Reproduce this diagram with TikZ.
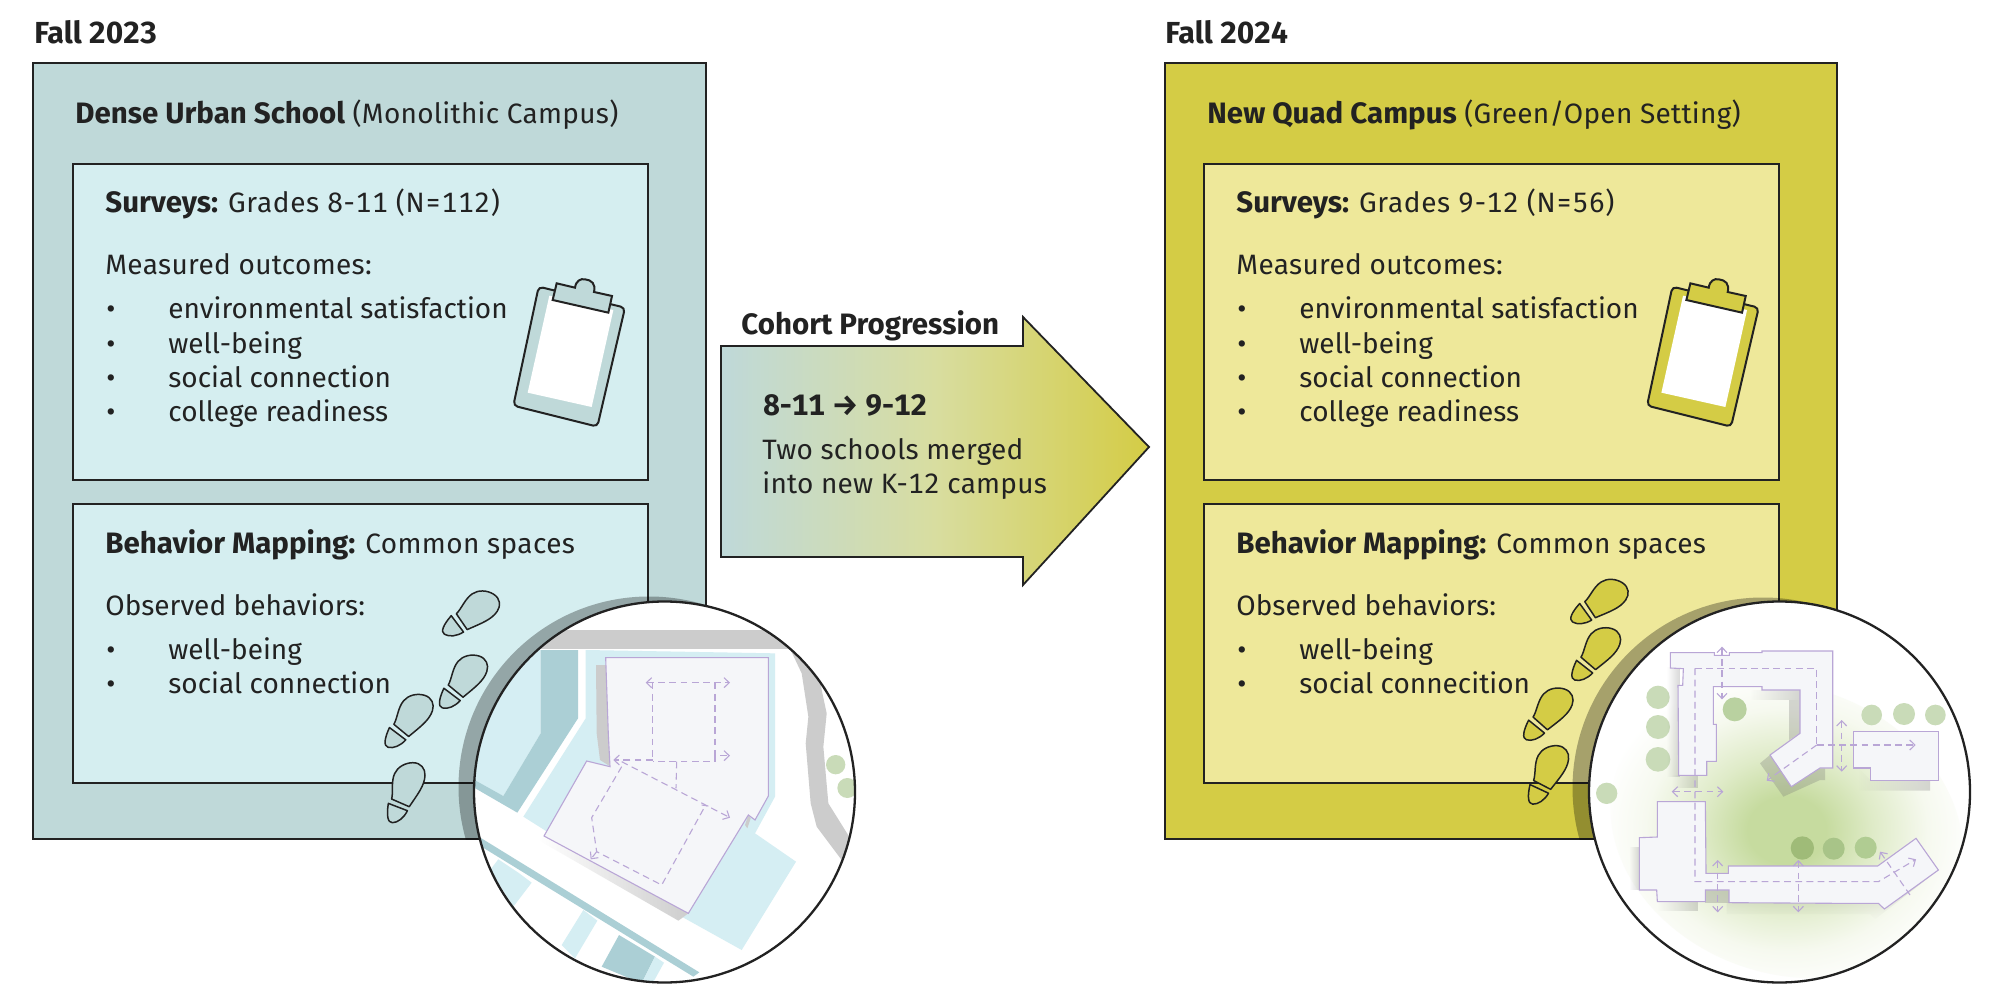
\documentclass[tikz,border=0pt]{standalone}
\usepackage{fontspec}
\setmainfont{Fira Sans}[Numbers=Monospaced]
\usetikzlibrary{arrows.meta,fadings}
\definecolor{ink}{HTML}{222222}
\definecolor{tealpanel}{HTML}{BFD9D9}
\definecolor{tealinner}{HTML}{D5EEF0}
\definecolor{yelpanel}{HTML}{D4CC45}
\definecolor{yelinner}{HTML}{EEE89A}
\definecolor{maplight}{HTML}{D5EEF3}
\definecolor{mapmid}{HTML}{ABCFD5}
\definecolor{mapgrey}{HTML}{CCCCCC}
\definecolor{bldg}{HTML}{F5F6F9}
\definecolor{purp}{HTML}{B9A6D6}
\definecolor{tree}{HTML}{C9DBB8}
\definecolor{treea}{HTML}{B9D1A0}
\definecolor{treeb}{HTML}{9FBB78}
\definecolor{treec}{HTML}{A8C488}
\definecolor{treed}{HTML}{B0CC92}
\definecolor{glowcore}{HTML}{C6DB9F}
\definecolor{glowmid}{HTML}{DFEBC8}
\definecolor{glowout}{HTML}{F6F9EF}
\pgfdeclareradialshading{greenglow}{\pgfpoint{0bp}{0bp}}{color(0bp)=(glowcore); color(5bp)=(glowcore); color(11bp)=(glowmid); color(18bp)=(glowout); color(24bp)=(white); color(50bp)=(white)}
\newcommand{\bfx}[1]{{\fontsize{14.75pt}{16pt}\selectfont\bfseries #1}}
\newcommand{\hdx}[1]{{\fontsize{15.2pt}{16pt}\selectfont\bfseries #1}}
\newcommand{\lsp}[2]{{\addfontfeature{LetterSpace=#1}#2}}
\tikzset{
  txt/.style={anchor=base west,inner sep=0pt,text=ink,font=\fontsize{14pt}{16pt}\selectfont},
  panelline/.style={draw=ink,line width=1pt},
  zoomscale/.style={x=0.16667pt,y=-0.16667pt},
  bldgstyle/.style={fill=bldg,draw=purp,line width=.55pt,line join=miter},
  flow/.style={draw=purp,line width=.55pt,dash pattern=on 3.4pt off 2.2pt},
  flowtip/.style={flow,{Straight Barb[length=2.6pt,width=5pt,line width=.55pt]}-{Straight Barb[length=2.6pt,width=5pt,line width=.55pt]}},
  flowend/.style={flow,-{Straight Barb[length=2.6pt,width=5pt,line width=.55pt]}},
  bshadow/.style={fill=black!55,opacity=.28},
}
\newcommand{\shoeprint}[4]{%
 \begin{scope}[shift={(#1,#2)},zoomscale,rotate=-#3,xscale=1.1]
  \path[fill=#4,draw=ink,line width=.75pt,line join=round]
   (-22,-14) .. controls (-17,-35) and (-24,-65) .. (-14,-90)
   .. controls (-6,-110) and (15,-123) .. (36,-123)
   .. controls (58,-123) and (70,-105) .. (69,-85)
   .. controls (68,-55) and (50,-30) .. (26,9) -- cycle;
  \path[fill=#4,draw=ink,line width=.75pt,line join=round]
   (-31,-1) -- (21,21) .. controls (12,42) and (-5,57) .. (-20,57)
   .. controls (-33,57) and (-36,35) .. (-31,-1) -- cycle;
 \end{scope}}
\newcommand{\clipboardicon}[3]{%
 \begin{scope}[shift={(#1,#2)},zoomscale]
  \path[fill=#3,draw=ink,line width=1pt,rounded corners=2.2pt]
   (146,80) -- (405,143) -- (322,500) -- (70,437) -- cycle;
  \fill[white] (178,107) -- (370,150) -- (305,441) -- (113,398) -- cycle;
  \path[fill=#3,draw=ink,line width=1pt,line join=miter]
   (200,70) -- (255,83) .. controls (258,62) and (272,55) .. (285,58)
   .. controls (305,60) and (318,72) .. (312,96) -- (366,108) -- (355,158) -- (188,120) -- cycle;
 \end{scope}}
\begin{document}
\begin{tikzpicture}[x=0.5pt,y=-0.5pt]
\useasboundingbox (0,0) rectangle (2000,1004);
\fill[white] (0,0) rectangle (2000,1004);

% ---------- left panel
\path[fill=tealpanel,panelline] (33,63) rectangle (706,839);
\path[fill=tealinner,panelline] (73,164) rectangle (648,480);
\path[fill=tealinner,panelline] (73,504) rectangle (648,783);
\node[txt] (a0) at (34,44) {\hdx{Fall 2023}};
\node[txt] (a1) at (75,124) {\bfx{Dense Urban School} \lsp{1}{(Monolithic Campus)}};
\node[txt] (a2) at (105,213) {\bfx{Surveys:} \lsp{2.4}{Grades 8-11 (N=112)}};
\node[txt] (a3) at (105,275) {\lsp{1.2}{Measured outcomes:}};
\node[txt] (a4b) at (106,319) {•}; \node[txt] (a4) at (168,319) {environmental satisfaction};
\node[txt] (a5b) at (106,354) {•}; \node[txt] (a5) at (168,354) {well-being};
\node[txt] (a6b) at (106,388) {•}; \node[txt] (a6) at (168,388) {social connection};
\node[txt] (a7b) at (106,422) {•}; \node[txt] (a7) at (168,422) {college readiness};
\node[txt] (a8) at (105,553) {\bfx{Behavior Mapping:} \lsp{1.4}{Common spaces}};
\node[txt] (a9) at (105,615) {Observed behaviors:};
\node[txt] (a10b) at (106,659) {•}; \node[txt] (a10) at (168,659) {well-being};
\node[txt] (a11b) at (106,693) {•}; \node[txt] (a11) at (168,693) {social connection};
\clipboardicon{490}{260}{tealpanel}
\shoeprint{460.7}{622}{32}{tealpanel}
\shoeprint{454.7}{691.7}{16}{tealpanel}
\shoeprint{400.3}{731}{16}{tealpanel}
\shoeprint{399.7}{803.7}{0}{tealpanel}

% ---------- right panel
\path[fill=yelpanel,panelline] (1164.5,63) rectangle (1836.7,839);
\path[fill=yelinner,panelline] (1203.5,164) rectangle (1779,480);
\path[fill=yelinner,panelline] (1203.5,504) rectangle (1779,783);
\node[txt] (b0) at (1165,44) {\hdx{Fall 2024}};
\node[txt] (b1) at (1207,124) {\bfx{New Quad Campus} \lsp{1}{(Green/Open Setting)}};
\node[txt] (b2) at (1236,213) {\bfx{Surveys:} \lsp{2.4}{Grades 9-12 (N=56)}};
\node[txt] (b3) at (1236,275) {\lsp{1.2}{Measured outcomes:}};
\node[txt] (b4b) at (1237,319) {•}; \node[txt] (b4) at (1299,319) {environmental satisfaction};
\node[txt] (b5b) at (1237,354) {•}; \node[txt] (b5) at (1299,354) {well-being};
\node[txt] (b6b) at (1237,388) {•}; \node[txt] (b6) at (1299,388) {social connection};
\node[txt] (b7b) at (1237,422) {•}; \node[txt] (b7) at (1299,422) {college readiness};
\node[txt] (b8) at (1236,553) {\bfx{Behavior Mapping:} \lsp{1.4}{Common spaces}};
\node[txt] (b9) at (1236,615) {Observed behaviors:};
\node[txt] (b10b) at (1237,659) {•}; \node[txt] (b10) at (1299,659) {well-being};
\node[txt] (b11b) at (1237,693) {•}; \node[txt] (b11) at (1299,693) {social connecition};
\clipboardicon{1623.7}{260}{yelpanel}
\shoeprint{1589}{610}{33}{yelpanel}
\shoeprint{1587.3}{664}{17}{yelpanel}
\shoeprint{1539.3}{724}{18}{yelpanel}
\shoeprint{1541.3}{785.7}{4}{yelpanel}

% ---------- cohort arrow
\path[left color=tealpanel,right color=yelpanel,middle color=tealpanel!45!yelinner!80!yelpanel]
  (721,346) -- (1023,346) -- (1023,317) -- (1149,447) -- (1023,585) -- (1023,557) -- (721,557) -- cycle;
\path[draw=ink,line width=.9pt,line join=miter]
  (721,346) -- (1023,346) -- (1023,317) -- (1149,447) -- (1023,585) -- (1023,557) -- (721,557) -- cycle;
\node[txt] (c0) at (741,335) {\bfx{Cohort Progression}};
\node[txt] (c1) at (763,416) {\bfx{8-11 → 9-12}};
\node[txt] (c2) at (762,460) {\lsp{.8}{Two schools merged}};
\node[txt] (c3) at (762,494) {\lsp{.8}{into new K-12 campus}};

% ---------- left map
\begin{scope}
 \clip (33,63) rectangle (706,839);
 \fill[black,opacity=.3] (649,787) circle[radius=190.5];
\end{scope}
\fill[white] (664.5,792) circle[radius=190.5];
\begin{scope}
 \clip (664.5,792) circle[radius=190.5];
 \begin{scope}[shift={(440,570)},zoomscale]
  \fill[mapgrey] (250,180) rectangle (1100,236);
  \fill[mapgrey] (1050,236) -- (1130,236) -- (1145,360) -- (1160,430) -- (1150,530) -- (1165,700)
     -- (1240,820) -- (1205,870) -- (1130,770) -- (1112,700) -- (1097,520) -- (1105,440) -- (1085,310) -- cycle;
  \fill[maplight] (60,240) -- (302,240) -- (302,490) -- (190,678) -- (60,610) -- cycle;
  \fill[mapmid] (302,240) -- (414,240) -- (414,445) -- (232,728) -- (80,640) -- (100,628) -- (190,678) -- (302,490) -- cycle;
  \fill[maplight] (437,240) -- (1005,250) -- (1005,680) -- (945,790) -- (1068,875) -- (905,1140) -- (725,1040) -- (250,740) -- (437,445) -- cycle;
  \fill[mapmid] (100,790) -- (778,1207) -- (760,1220) -- (100,815) -- cycle;
  \fill[maplight] (175,868) -- (235,908) -- (275,938) -- (220,1010) -- (150,900) -- cycle;
  \fill[maplight] (430,1020) -- (472,1052) -- (405,1165) -- (365,1125) -- cycle;
  \fill[mapmid] (537,1095) -- (645,1160) -- (605,1240) -- (485,1190) -- cycle;
  \fill[maplight] (645,1160) -- (672,1178) -- (635,1245) -- (605,1240) -- cycle;
  \fill[tree] (1187,584) circle[radius=29];
  \fill[tree] (1222,654) circle[radius=30];
  % shadows
  \fill[mapgrey] (468,285) -- (500,285) -- (512,590) -- (480,570) -- (470,490) -- cycle;
  \fill[mapgrey] (925,735) -- (932,745) -- (922,775) -- (915,765) -- cycle;
  \path[fill=white] (295,790) -- (745,1030) -- (715,1052) -- (285,810) -- cycle;
  \fill[black!55,opacity=.35,path fading=west] (312,800) -- (745,1030) -- (715,1052) -- (298,812) -- cycle;
  \path[bldgstyle] (497,263) -- (985,263) -- (985,678) -- (945,750) -- (925,735) -- (745,1030) -- (312,798) -- (440,573) -- (510,590) -- (505,495) -- cycle;
  \path[flowtip] (617,338) -- (870,338);
  \path[flow] (638,338) -- (638,570);
  \path[flowend] (825,338) -- (825,557) -- (870,557);
  \path[flow] (825,557) -- (825,575) -- (638,575);
  \path[flowend] (638,570) -- (520,570);
  \path[flow] (710,575) -- (708,655);
  \path[flowend] (545,575) -- (870,743);
  \path[flow] (545,590) -- (455,743) -- (470,845) -- (665,945) -- (797,705);
  \path[flowend] (470,845) -- (452,868);
  \path[flow] (785,705) -- (805,708);
 \end{scope}
\end{scope}
\draw[ink,line width=1.15pt] (664.5,792) circle[radius=190.5];

% ---------- right map
\begin{scope}
 \clip (1164.5,63) rectangle (1836.7,839);
 \fill[black,opacity=.3] (1763,788) circle[radius=190.5];
\end{scope}
\fill[white] (1779.5,792) circle[radius=190.5];
\begin{scope}
 \clip (1779.5,792) circle[radius=190.5];
 \begin{scope}[shift={(1550,570)},zoomscale]
  \path[shading=greenglow,rotate around={-20:(710,780)}] (710,780) ellipse[x radius=540,y radius=430];
  % trees
  \fill[tree] (324,382) circle[radius=35];
  \fill[tree] (324,471) circle[radius=36];
  \fill[tree] (324,568) circle[radius=37];
  \fill[tree] (170,670) circle[radius=32];
  \fill[treea] (554,418) circle[radius=36];
  \fill[tree] (965,435) circle[radius=31];
  \fill[tree] (1062,432) circle[radius=33];
  \fill[tree] (1156,435) circle[radius=31];
  \fill[treeb] (757,834) circle[radius=35];
  \fill[treec] (851,836) circle[radius=33];
  \fill[treed] (947,833) circle[radius=33];
  % shadows
  \fill[bshadow,path fading=west] (600,360) -- (750,360) -- (750,390) -- (600,390) -- cycle;
  \fill[bshadow] (717,390) -- (750,390) -- (750,490) -- (717,510) -- cycle;
  \fill[bshadow] (660,555) -- (630,580) -- (700,680) -- (810,630) -- (825,630) -- (825,595) -- (810,595) -- (725,650) -- cycle;
  \fill[bshadow,path fading=west] (350,290) -- (390,290) -- (390,620) -- (350,620) -- cycle;
  \fill[bshadow,path fading=west] (365,616) -- (445,616) -- (445,655) -- (365,655) -- cycle;
  \fill[bshadow,path fading=west] (925,594) -- (962,631) -- (1140,631) -- (1140,662) -- (925,662) -- cycle;
  \fill[bshadow,path fading=west] (237,830) -- (270,830) -- (270,960) -- (237,960) -- cycle;
  \fill[bshadow,path fading=west] (322,995) -- (445,995) -- (445,1023) -- (322,1023) -- cycle;
  \fill[bshadow] (465,960) -- (537,960) -- (537,1000) -- (465,1000) -- cycle;
  \fill[bshadow,path fading=south] (530,998) -- (870,1000) -- (985,1000) -- (1003,1017) -- (1165,900) -- (975,1048) -- (960,1032) -- (530,1032) -- cycle;
  % buildings
  \path[bldgstyle] (361,248) -- (493,248) -- (493,256) -- (538,256) -- (538,248) -- (636,248) -- (636,243) -- (848,243) -- (848,594) -- (810,594) -- (724,650) -- (660,555) -- (750,490) -- (750,360) -- (636,360) -- (636,350) -- (490,350) -- (490,463) -- (499,463) -- (499,574) -- (470,574) -- (470,616) -- (386,616) -- (384,346) -- (398,346) -- (400,296) -- (361,294) -- cycle;
  \path[bldgstyle] (322,695) -- (466,695) -- (468,910) -- (535,910) -- (535,888) -- (983,888) -- (1098,805) -- (1165,900) -- (1003,1017) -- (985,1000) -- (870,1000) -- (537,998) -- (537,960) -- (466,960) -- (466,995) -- (322,995) -- (320,960) -- (268,960) -- (268,803) -- (322,801) -- cycle;
  \path[bldgstyle] (910,484) -- (1166,484) -- (1166,631) -- (962,631) -- (962,594) -- (910,594) -- cycle;
  % circulation
  \path[flowtip] (516,230) -- (516,388);
  \path[flow] (435,295) -- (800,295) -- (800,525);
  \path[flowend] (435,295) -- (435,935) -- (985,935) -- (1098,868);
  \path[flowend] (800,525) -- (650,632);
  \path[flowend] (800,525) -- (1097,525);
  \path[flowtip] (875,450) -- (875,605);
  \path[flowtip] (365,665) -- (520,665);
  \path[flowtip] (503,870) -- (503,1027);
  \path[flowtip] (745,870) -- (745,1027);
  \path[flow,{Straight Barb[length=2.6pt,width=5pt,line width=.55pt]}-] (990,845) -- (1080,975);
 \end{scope}
\end{scope}
\draw[ink,line width=1.15pt] (1779.5,792) circle[radius=190.5];
\end{tikzpicture}
\end{document}
